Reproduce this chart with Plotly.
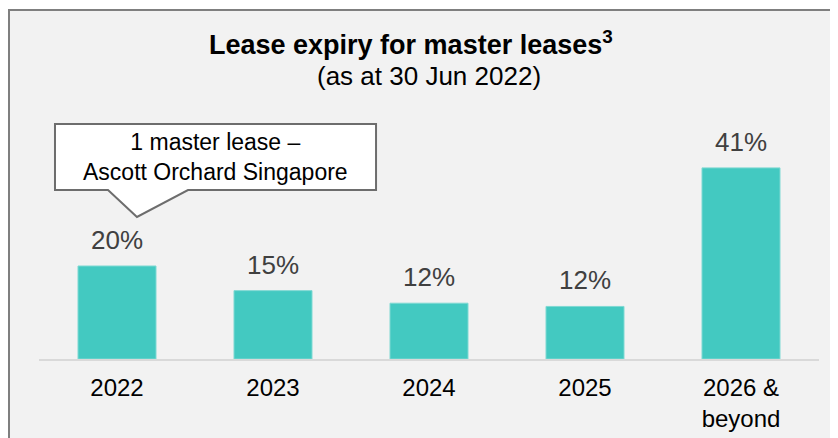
import plotly.graph_objects as go

# data
categories = ["2022", "2023", "2024", "2025", "2026 &<br>beyond"]
values = [20.0, 14.7, 12.0, 11.3, 41.1]
value_labels = ["20%", "15%", "12%", "12%", "41%"]

title_text = "<b>Lease expiry for master leases<sup>3</sup></b>"
subtitle_text = "(as at 30 Jun 2022)"
callout_text = "1 master lease –<br>Ascott Orchard Singapore"

W, H = 838, 438
OFF = 8  # page body margin
ML, MR, MT, MB = 39 - OFF, 19 + OFF, 150 - OFF, 79 + OFF
PW, PH = W - ML - MR, H - MT - MB
FONT = "Liberation Sans, Arial, sans-serif"


def px(x):
    # screen pixel -> paper
    return (x - OFF - ML) / PW


def py(y):
    return (H - MB - (y - OFF)) / PH


fig = go.Figure()
fig.add_trace(go.Bar(
    x=categories, y=values, width=0.5,
    marker=dict(color="#43C9C1", line=dict(color="#7FD9D3", width=1)),
    hoverinfo="skip",
))

# value labels above bars (category index as x)
for i, (v, t) in enumerate(zip(values, value_labels)):
    fig.add_annotation(x=i, y=v, text=t, showarrow=False, yanchor="bottom",
                       yshift=9, font=dict(family=FONT, size=26, color="#404040"))

# panel background with border on top and left
fig.add_shape(type="rect", xref="paper", yref="paper",
              x0=px(9), y0=py(10), x1=px(860), y1=py(460),
              fillcolor="#F2F2F2", line=dict(color="#7F7F7F", width=2), layer="below")

# callout box
pts = [(55, 124), (376, 124), (376, 190), (188, 190), (137, 217), (108, 190), (55, 190)]
path = "M " + " L ".join(f"{px(a):.4f},{py(b):.4f}" for a, b in pts) + " Z"
fig.add_shape(type="path", xref="paper", yref="paper", path=path,
              fillcolor="white", line=dict(color="#6D6D6D", width=2))
fig.add_annotation(xref="paper", yref="paper", x=px(215.5), y=py(157), text=callout_text,
                   showarrow=False, xanchor="center", yanchor="middle",
                   font=dict(family=FONT, size=23, color="#000000"))

fig.add_annotation(xref="paper", yref="paper", x=px(411), y=py(43), text=title_text,
                   showarrow=False, xanchor="center", yanchor="middle",
                   font=dict(family=FONT, size=27, color="#000000"))
fig.add_annotation(xref="paper", yref="paper", x=px(429), y=py(76), text=subtitle_text,
                   showarrow=False, xanchor="center", yanchor="middle",
                   font=dict(family=FONT, size=26, color="#000000"))

fig.update_layout(
    width=W, height=H,
    margin=dict(l=ML, r=MR, t=MT, b=MB, autoexpand=False),
    paper_bgcolor="white", plot_bgcolor="rgba(0,0,0,0)",
    showlegend=False,
    font=dict(family=FONT),
)
fig.update_xaxes(type="category", range=[-0.5, len(categories) - 0.5],
                 showline=True, linecolor="#D9D9D9", linewidth=2,
                 ticks="", showgrid=False, ticklabelstandoff=6, automargin=False,
                 tickfont=dict(family=FONT, size=24, color="#000000"))
fig.update_yaxes(range=[0, PH / 4.65], visible=False, showgrid=False)

fig.write_html("out.html")
